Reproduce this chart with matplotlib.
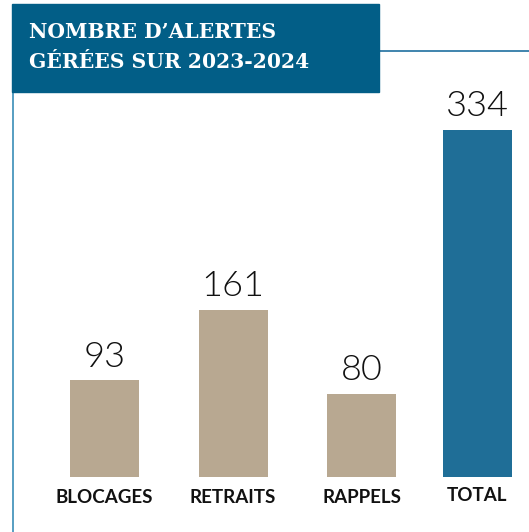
import matplotlib
matplotlib.use("Agg")
import matplotlib.pyplot as plt
from matplotlib.patches import Rectangle
from matplotlib.lines import Line2D

# données
categories = ["BLOCAGES", "RETRAITS", "RAPPELS", "TOTAL"]
values = [93, 161, 80, 334]
title_lines = ["NOMBRE D\u2019ALERTES", "G\u00c9R\u00c9ES SUR 2023-2024"]

# mise en page
W, H = 529, 532
positions = [0, 1, 2, 2.9]
bar_colors = ["#b8a891", "#b8a891", "#b8a891", "#1f6e97"]
dark_blue = "#025e87"

fig = plt.figure(figsize=(W / 100, H / 100), dpi=100)
fig.patch.set_facecolor("white")

# axes qui couvre toute la figure
ax = fig.add_axes([0, 0, 1, 1])
ax.set_xlim(-104.5 / 128.5, (W - 104.5) / 128.5)
ax.set_ylim(-55 / 1.04, (H - 55) / 1.04)
ax.axis("off")

ax.bar(positions, values, width=69 / 128.5, color=bar_colors, linewidth=0)

for x, v, lab in zip(positions, values, categories):
    ax.annotate(str(v), (x, v), xytext=(0, 13.5), textcoords="offset pixels",
                ha="center", va="baseline", fontsize=26,
                family=["Lato", "DejaVu Sans"], fontweight=300, color="#111111")
    dy = -24 if lab == "TOTAL" else -26
    ax.annotate(lab, (x, 0), xytext=(0, dy), textcoords="offset pixels",
                ha="center", va="baseline", fontsize=13.5,
                family=["Lato", "DejaVu Sans"], fontweight="bold", color="#111111")

# cadre du titre
fig.patches.append(Rectangle((12 / W, (H - 92) / H), 367 / W, 88 / H,
                             transform=fig.transFigure, color=dark_blue, zorder=5))
fig.lines.append(Line2D([379 / W, 1], [(H - 50.5) / H] * 2, transform=fig.transFigure,
                        color="#1f6fa0", linewidth=1.2))
fig.lines.append(Line2D([12.8 / W] * 2, [0, (H - 92) / H], transform=fig.transFigure,
                        color="#3a8db8", linewidth=1.2))

for i, line in enumerate(title_lines):
    fig.text(29 / W, (H - 38.5 - 29 * i) / H, line, color="white", fontsize=14.6,
             family=["DejaVu Serif"], fontweight="bold",
             ha="left", va="baseline", zorder=6)

fig.savefig("out.png", dpi=100)
